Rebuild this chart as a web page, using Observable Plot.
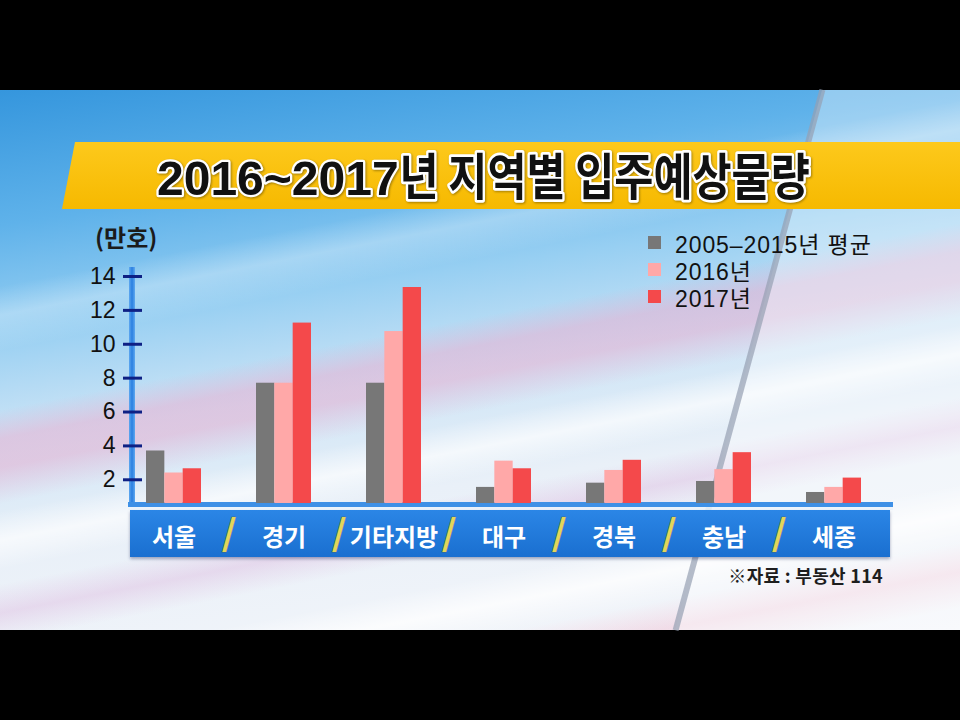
<!DOCTYPE html>
<html><head><meta charset="utf-8">
<script src="https://cdn.jsdelivr.net/npm/d3@7"></script>
<script src="https://cdn.jsdelivr.net/npm/@observablehq/plot@0.6"></script>
<style>
body{margin:0;background:#000;}
#frame{position:relative;width:960px;height:720px;overflow:hidden;background:#000;font-family:"Liberation Sans","Noto Sans CJK KR",sans-serif;}
#frame > *{position:absolute;}
#bg{left:0;top:90px;width:960px;height:540px;
background:
 linear-gradient(169deg, transparent 0 27%, rgba(255,255,255,0.28) 31%, transparent 36%),
 linear-gradient(169deg, transparent 0 44%, rgba(232,170,205,0.50) 48%, rgba(232,170,205,0.50) 52%, transparent 57%),
 linear-gradient(169deg, transparent 0 58%, rgba(255,255,255,0.65) 62%, transparent 66%),
 linear-gradient(169deg, transparent 0 68%, rgba(220,180,220,0.40) 72%, transparent 76%),
 linear-gradient(169deg, transparent 0 80%, rgba(255,255,255,0.75) 84%, transparent 88%),
 linear-gradient(169deg, transparent 0 88%, rgba(240,190,210,0.45) 92%, transparent 97%),
 linear-gradient(172deg, #3596dd 0%, #5fb2ea 20%, #97cff2 36%, #cfe5f6 52%, #e9f0f8 68%, #f4f6fa 100%);}
#light{left:0;top:90px;width:960px;height:540px;background:rgba(255,255,255,0.35);
 clip-path:polygon(822px 0, 960px 0, 960px 540px, 675px 540px);}
#gline{left:746px;top:80px;width:6px;height:560px;background:rgba(150,160,178,0.7);transform:rotate(15.2deg);}
#banner{left:62px;top:142px;width:898px;height:67px;background:linear-gradient(#fdc91c,#f6b900);
 clip-path:polygon(13px 0,100% 0,100% 100%,0 100%);}
#unit{left:95px;top:225px;font-size:24px;line-height:24px;font-weight:bold;color:#1b1b1b;font-family:"Noto Sans CJK KR","Liberation Sans",sans-serif;}
#legend{left:648px;top:229px;}
.item{display:flex;align-items:center;height:27px;font-size:23px;color:#111;letter-spacing:0.9px;}
.sw{width:13px;height:13px;margin-right:14px;}
#yline{left:129px;top:267px;width:6px;height:238px;background:linear-gradient(90deg,#5ea8f0,#2a7fe0,#5ea8f0);}
#xline{left:128px;top:502px;width:765px;height:5px;background:#3e90e6;}
#xgap{left:128px;top:507px;width:765px;height:3px;background:rgba(235,243,252,0.85);}
#xband{left:130px;top:510px;width:760px;height:47px;background:linear-gradient(#2b86e6,#1a6fd0);box-shadow:0 2px 3px rgba(0,20,80,0.35);}
#chart{left:0;top:0;}
#caption{right:77px;top:563px;font-size:18px;line-height:24px;font-weight:bold;color:#1e1e1e;font-family:"Noto Sans CJK KR",sans-serif;letter-spacing:0.3px;}
#titleSvg text{filter:drop-shadow(1px 1px 1px rgba(0,0,0,0.35));}
</style></head>
<body>
<div id="frame">
 <div id="bg"></div>
 <div id="light"></div>
 <div id="gline"></div>
 <div id="banner"></div>
 <svg id="titleSvg" width="960" height="720" style="left:0;top:0">
  <text id="t1" x="157" y="195" font-family="Liberation Sans" font-weight="bold" font-size="48" fill="#111" stroke="#fff" stroke-width="4.5" stroke-linejoin="round" paint-order="stroke"></text>
  <text id="t2" font-family="Noto Sans CJK KR" font-weight="bold" font-size="50" fill="#111" stroke="#fff" stroke-width="5.5" stroke-linejoin="round" paint-order="stroke"></text>
 </svg>
 <div id="unit"></div>
 <div id="legend"></div>
 <div id="yline"></div>
 <div id="xline"></div>
 <div id="xgap"></div>
 <div id="xband"></div>
 <div id="chart"></div>
 <div id="caption"></div>
</div>
<script>
const titleText = "2016~2017년 지역별 입주예상물량";
const unitText = "(만호)";
const sourceText = "※자료 : 부동산 114";
const regions = ["서울", "경기", "기타지방", "대구", "경북", "충남", "세종"];
const seriesNames = ["2005–2015년 평균", "2016년", "2017년"];
const avg0515 = [3.7, 7.7, 7.7, 1.55, 1.8, 1.9, 1.25];
const y2016 = [2.4, 7.7, 10.75, 3.1, 2.55, 2.6, 1.55];
const y2017 = [2.65, 11.25, 13.35, 2.65, 3.15, 3.6, 2.1];
const yTicks = [2, 4, 6, 8, 10, 12, 14];
const colors = ["#777777", "#ffa8a8", "#f4494b"];

// title
const m = titleText.match(/^[\d~]+/);
const t1 = document.getElementById("t1"), t2 = document.getElementById("t2");
t1.textContent = m[0];
t2.textContent = titleText.slice(m[0].length);
const w1 = t1.getComputedTextLength();
t2.setAttribute("transform", `translate(${157 + w1 + 1},195) scale(0.85,1)`);

document.getElementById("unit").textContent = unitText;
document.getElementById("caption").textContent = sourceText;

const legend = document.getElementById("legend");
seriesNames.forEach((name, i) => {
  const it = document.createElement("div");
  it.className = "item";
  it.innerHTML = `<span class="sw" style="background:${colors[i]}"></span><span>${name}</span>`;
  legend.appendChild(it);
});

const seriesValues = [avg0515, y2016, y2017];
const band = 55;
const bars = seriesValues.map((vals, i) =>
  Plot.barY(regions, {
    x: d => d,
    y: (d, j) => vals[j],
    fill: colors[i],
    insetLeft: i * band / 3,
    insetRight: (2 - i) * band / 3
  })
);

const chart = Plot.plot({
  width: 960,
  height: 720,
  marginTop: 276,
  marginBottom: 217,
  marginLeft: 131,
  marginRight: 84,
  style: {background: "transparent", fontFamily: "'Liberation Sans','Noto Sans CJK KR',sans-serif", overflow: "visible"},
  x: {domain: regions, paddingInner: 0.5, paddingOuter: 0.136, align: 0.5, axis: null},
  y: {domain: [0.6, 14], clamp: true, axis: null},
  marks: [
    ...bars,
    Plot.axisY(yTicks, {tickSize: 19, dx: 11, stroke: "#0e2084", strokeWidth: 3, tickFormat: () => ""}),
    Plot.axisY(yTicks, {tickSize: 0, tickPadding: 16, fontSize: 23, fill: "#111"}),
    Plot.axisX(regions, {tickSize: 0, tickPadding: 25, fontSize: 24, fontWeight: "bold", fill: "white", fontFamily: "'Noto Sans CJK KR',sans-serif"}),
    Plot.text(regions.slice(1), {x: d => d, text: () => "/", dx: -55, frameAnchor: "bottom", dy: 48, fontSize: 48, fill: "#e2d65a", stroke: "#5c5a30", strokeWidth: 0.7, fontFamily: "'Liberation Sans',sans-serif"})
  ]
});
document.getElementById("chart").appendChild(chart);
</script>
</body></html>
